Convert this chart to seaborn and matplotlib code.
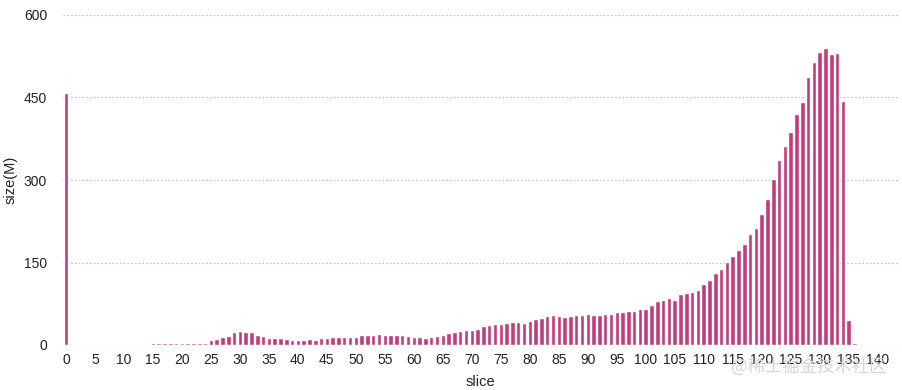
import numpy as np
import pandas as pd
import seaborn as sns
import matplotlib
matplotlib.use("Agg")
import matplotlib.pyplot as plt

# ---- data ----
slices = list(range(144))
sizes = [
    458, 0, 0, 0, 0, 0, 0, 0, 0, 0,
    0, 0, 0, 0, 0, 3, 3, 3, 3, 3,
    3, 3, 3, 3, 4, 9, 11, 15, 16, 23,
    26, 23, 23, 19, 16, 13, 12, 13, 11, 9,
    9, 9, 11, 10, 12, 13, 14, 14, 14, 15,
    15, 18, 19, 19, 20, 19, 19, 18, 18, 16,
    15, 14, 13, 14, 16, 19, 22, 23, 25, 27,
    27, 29, 35, 36, 38, 38, 40, 42, 42, 40,
    44, 47, 50, 53, 55, 53, 51, 53, 54, 55,
    56, 55, 55, 56, 56, 60, 60, 62, 62, 65,
    66, 73, 80, 82, 86, 82, 93, 94, 96, 100,
    111, 118, 131, 138, 151, 161, 173, 184, 202, 212,
    238, 266, 301, 336, 362, 387, 420, 441, 487, 515,
    533, 540, 530, 531, 443, 46, 3, 0, 0, 0,
    0, 0, 0, 0,
]
x_tick_values = list(range(0, 141, 5))
y_tick_values = [0, 150, 300, 450, 600]
x_label = "slice"
y_label = "size(M)"
watermark = "@稀土掘金技术社区"

df = pd.DataFrame({"slice": slices, "size": sizes})

sns.set_theme(style="white")
plt.rcParams["font.family"] = ["Liberation Sans", "DejaVu Sans"]

fig = plt.figure(figsize=(9.02, 3.90), dpi=100)
ax = fig.add_axes([63 / 902, 45 / 390, 835 / 902, 330 / 390])

sns.barplot(data=df, x="slice", y="size", order=slices, color="#c13c7c",
            saturation=1, width=0.78, ax=ax, errorbar=None)

ax.set_xlim(-0.5, len(slices) - 0.5)
ax.set_ylim(0, 600)
ax.set_yticks(y_tick_values)
ax.set_yticklabels([str(v) for v in y_tick_values])
ax.set_xticks([slices.index(v) for v in x_tick_values])
ax.set_xticklabels([str(v) for v in x_tick_values])

for v in y_tick_values:
    ax.axhline(v, color="#c8c8c8", linestyle=(0, (1.5, 1.5)), linewidth=0.9, zorder=0)

for s in ax.spines.values():
    s.set_visible(False)

ax.tick_params(axis="both", length=0, labelsize=10, colors="#222222")
ax.tick_params(axis="y", pad=11.5)
ax.tick_params(axis="x", pad=6)

ax.set_xlabel(x_label, fontsize=10.5, color="#222222")
ax.set_ylabel(y_label, fontsize=10.5, color="#222222")
ax.yaxis.set_label_coords(-0.055, 0.5)
ax.xaxis.set_label_coords(0.5, -0.09)

fig.text(887 / 902, 1 - 367 / 390, watermark, ha="right", va="center",
         fontsize=12.5, color="#d6d6d6",
         family=["Noto Sans CJK SC", "DejaVu Sans"])

fig.savefig("out.png", dpi=100)
